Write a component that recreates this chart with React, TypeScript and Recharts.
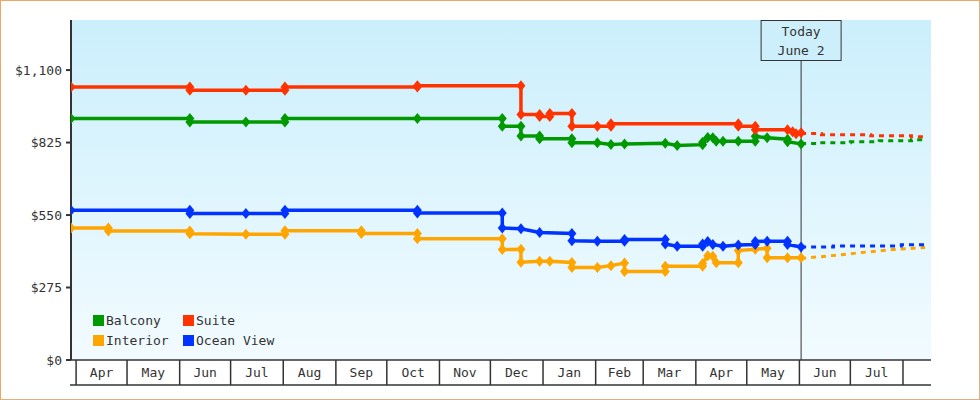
import { LineChart, Line, XAxis, YAxis, CartesianGrid, ReferenceLine, Legend } from 'recharts'

const FONT = '"DejaVu Sans Mono", monospace'
const INK = '#333333'

// chart geometry
const CHART_W = 980
const CHART_H = 400
const Y_AXIS_W = 71
const X_AXIS_H = 40
const MARGIN = { top: 20, right: 49, bottom: 0, left: 0 }
const PLOT_W = CHART_W - Y_AXIS_W - MARGIN.left - MARGIN.right
const ROW_H = 25

// day numbers count from 1 Apr 2022
const BASE = Date.UTC(2022, 3, 1)
const toDay = (s: string) => {
  const [y, m, d] = s.split('-').map(Number)
  return (Date.UTC(y, m - 1, d) - BASE) / 86400000
}

const X_MIN = -3
const X_MAX = 503.5
const Y_MAX = 1290

const MONTH_NAMES = ['Jan', 'Feb', 'Mar', 'Apr', 'May', 'Jun', 'Jul', 'Aug', 'Sep', 'Oct', 'Nov', 'Dec']
const MONTH_STARTS = [
  '2022-04-01', '2022-05-01', '2022-06-01', '2022-07-01', '2022-08-01', '2022-09-01',
  '2022-10-01', '2022-11-01', '2022-12-01', '2023-01-01', '2023-02-01', '2023-03-01',
  '2023-04-01', '2023-05-01', '2023-06-01', '2023-07-01', '2023-08-01',
]
const Y_TICKS = [0, 275, 550, 825, 1100]
const TODAY = '2023-06-02'
const TODAY_LABEL = ['Today', 'June 2']

type Pt = [string, number]

const balconyPrices: Pt[] = [
  ['2022-03-29', 916], ['2022-06-07', 916], ['2022-06-07', 903], ['2022-07-10', 903],
  ['2022-08-02', 903], ['2022-08-02', 916], ['2022-10-19', 916], ['2022-12-08', 916],
  ['2022-12-08', 887], ['2022-12-19', 887], ['2022-12-19', 850], ['2022-12-30', 850],
  ['2022-12-30', 839], ['2023-01-18', 839], ['2023-01-18', 824], ['2023-02-02', 824],
  ['2023-02-10', 818], ['2023-02-18', 820], ['2023-03-14', 822], ['2023-03-21', 814],
  ['2023-04-05', 817], ['2023-04-05', 826], ['2023-04-08', 844], ['2023-04-11', 843],
  ['2023-04-13', 830], ['2023-04-17', 830], ['2023-04-26', 830], ['2023-05-06', 830],
  ['2023-05-06', 849], ['2023-05-13', 843], ['2023-05-25', 838], ['2023-05-25', 828],
  ['2023-06-02', 820],
]
const suitePrices: Pt[] = [
  ['2022-03-29', 1036], ['2022-06-07', 1036], ['2022-06-07', 1023], ['2022-07-10', 1023],
  ['2022-08-02', 1023], ['2022-08-02', 1036], ['2022-10-19', 1036], ['2022-10-19', 1041],
  ['2022-12-19', 1041], ['2022-12-19', 931], ['2022-12-30', 931], ['2022-12-30', 924],
  ['2023-01-05', 924], ['2023-01-05', 935], ['2023-01-18', 935], ['2023-01-18', 887],
  ['2023-02-02', 887], ['2023-02-10', 887], ['2023-02-10', 896], ['2023-04-26', 896],
  ['2023-04-26', 887], ['2023-05-06', 887], ['2023-05-06', 874], ['2023-05-25', 874],
  ['2023-05-28', 866], ['2023-05-30', 858], ['2023-06-02', 862],
]
const interiorPrices: Pt[] = [
  ['2022-03-29', 501], ['2022-04-20', 501], ['2022-04-20', 489], ['2022-06-07', 489],
  ['2022-06-07', 479], ['2022-07-10', 477], ['2022-08-02', 477], ['2022-08-02', 490],
  ['2022-09-16', 490], ['2022-09-16', 480], ['2022-10-19', 480], ['2022-10-19', 460],
  ['2022-12-08', 460], ['2022-12-08', 419], ['2022-12-19', 420], ['2022-12-19', 371],
  ['2022-12-30', 375], ['2023-01-05', 375], ['2023-01-18', 370], ['2023-01-18', 351],
  ['2023-02-02', 351], ['2023-02-10', 358], ['2023-02-18', 368], ['2023-02-18', 336],
  ['2023-03-14', 336], ['2023-03-14', 356], ['2023-04-05', 356], ['2023-04-05', 366],
  ['2023-04-08', 396], ['2023-04-11', 394], ['2023-04-13', 369], ['2023-04-26', 369],
  ['2023-04-26', 415], ['2023-05-06', 420], ['2023-05-13', 424], ['2023-05-13', 388],
  ['2023-05-25', 388], ['2023-06-02', 388],
]
const oceanViewPrices: Pt[] = [
  ['2022-03-29', 568], ['2022-06-07', 568], ['2022-06-07', 556], ['2022-07-10', 556],
  ['2022-08-02', 556], ['2022-08-02', 568], ['2022-10-19', 568], ['2022-10-19', 558],
  ['2022-12-08', 558], ['2022-12-08', 501], ['2022-12-19', 498], ['2022-12-30', 484],
  ['2023-01-18', 480], ['2023-01-18', 452], ['2023-02-02', 451], ['2023-02-18', 451],
  ['2023-02-18', 457], ['2023-03-14', 457], ['2023-03-14', 440], ['2023-03-21', 432],
  ['2023-04-05', 432], ['2023-04-05', 440], ['2023-04-08', 450], ['2023-04-11', 438],
  ['2023-04-17', 432], ['2023-04-26', 436], ['2023-05-06', 438], ['2023-05-06', 450],
  ['2023-05-13', 451], ['2023-05-25', 451], ['2023-05-25', 438], ['2023-06-02', 429],
]

// projected prices after today
const balconyForecast: Pt[] = [
  ['2023-06-02', 821], ['2023-06-13', 824], ['2023-07-01', 828], ['2023-07-18', 832],
  ['2023-08-06', 836], ['2023-08-14', 836],
]
const suiteForecast: Pt[] = [
  ['2023-06-02', 859], ['2023-06-14', 855], ['2023-07-13', 851], ['2023-08-06', 847],
  ['2023-08-14', 847],
]
const interiorForecast: Pt[] = [
  ['2023-06-02', 385], ['2023-06-20', 396], ['2023-07-08', 408], ['2023-07-26', 419],
  ['2023-08-14', 427],
]
const oceanViewForecast: Pt[] = [
  ['2023-06-02', 429], ['2023-06-21', 433], ['2023-07-31', 437], ['2023-08-14', 437],
]

const SERIES = [
  { name: 'Balcony', color: '#009900', history: balconyPrices, forecast: balconyForecast, curve: 'stepAfter' },
  { name: 'Suite', color: '#ff3300', history: suitePrices, forecast: suiteForecast, curve: 'stepAfter' },
  { name: 'Interior', color: '#ffa500', history: interiorPrices, forecast: interiorForecast, curve: 'linear' },
  { name: 'Ocean View', color: '#0033ff', history: oceanViewPrices, forecast: oceanViewForecast, curve: 'stepAfter' },
] as const

const toRows = (pts: Pt[]) => pts.map(([d, v]) => ({ d: toDay(d), v }))
const MONTH_DAYS = MONTH_STARTS.map(toDay)
const PX_PER_DAY = PLOT_W / (X_MAX - X_MIN)

const money = (v: number) => `$${v.toLocaleString('en-US')}`

const diamond = (color: string) => (props: any) => {
  const { cx, cy, index } = props
  if (cx == null || cy == null) return <g key={`e-${index}`} />
  return (
    <polygon
      key={`dot-${index}`}
      points={`${cx},${cy - 5.5} ${cx + 4.5},${cy} ${cx},${cy + 5.5} ${cx - 4.5},${cy}`}
      fill={color}
    />
  )
}

function MonthTick(props: any) {
  const { x, y, index } = props
  const start = MONTH_DAYS[index]
  const next = MONTH_DAYS[index + 1]
  const month = Number(MONTH_STARTS[index].split('-')[1]) - 1
  const plotLeft = x - (start - X_MIN) * PX_PER_DAY
  return (
    <g>
      {index === 0 && (
        <line x1={plotLeft - 1} y1={y + ROW_H} x2={plotLeft + PLOT_W} y2={y + ROW_H} stroke={INK} strokeWidth={1.5} />
      )}
      <line x1={x} y1={y} x2={x} y2={y + ROW_H} stroke={INK} strokeWidth={1.5} />
      {next !== undefined && (
        <text
          x={x + ((next - start) * PX_PER_DAY) / 2}
          y={y + 17}
          textAnchor="middle"
          fill={INK}
          fontSize={13}
          fontFamily={FONT}
        >
          {MONTH_NAMES[month]}
        </text>
      )}
    </g>
  )
}

function TodayLabel(props: any) {
  const { viewBox } = props
  const cx = viewBox.x
  const top = viewBox.y
  return (
    <g>
      <rect x={cx - 40} y={top + 0.5} width={80} height={40} fill="#cdeffc" stroke={INK} strokeWidth={1} />
      {TODAY_LABEL.map((t, i) => (
        <text key={t} x={cx} y={top + 16 + i * 18.5} textAnchor="middle" fill={INK} fontSize={13} fontFamily={FONT}>
          {t}
        </text>
      ))}
    </g>
  )
}

function LegendGrid() {
  return (
    <div
      style={{
        display: 'grid',
        gridTemplateColumns: '90px 120px',
        rowGap: 9,
        fontFamily: FONT,
        fontSize: 13,
        color: INK,
      }}
    >
      {SERIES.map((s) => (
        <div key={s.name} style={{ display: 'flex', alignItems: 'center', height: 11, whiteSpace: 'nowrap' }}>
          <span style={{ width: 11, height: 11, background: s.color, marginRight: 2, display: 'inline-block' }} />
          {s.name}
        </div>
      ))}
    </div>
  )
}

export default function App() {
  return (
    <div
      style={{
        position: 'absolute',
        left: 0,
        top: 0,
        width: CHART_W,
        height: CHART_H,
        background: '#ffffff',
        boxShadow: 'inset 1px 1px 0 #eda862, inset -1px -1px 0 #dcb084',
      }}
    >
      <LineChart width={CHART_W} height={CHART_H} margin={MARGIN} style={{ fontFamily: FONT }}>
        <defs>
          <linearGradient id="plotBg" x1="0" y1="0" x2="0" y2="1">
            <stop offset="0%" stopColor="#cbeffc" />
            <stop offset="100%" stopColor="#f2fbff" />
          </linearGradient>
        </defs>
        <CartesianGrid horizontal={false} vertical={false} fill="url(#plotBg)" />
        <XAxis
          dataKey="d"
          type="number"
          domain={[X_MIN, X_MAX]}
          allowDataOverflow
          ticks={MONTH_DAYS}
          interval={0}
          height={X_AXIS_H}
          tickSize={0}
          tickMargin={0}
          tick={<MonthTick />}
          axisLine={{ stroke: INK, strokeWidth: 1.5 }}
        />
        <YAxis
          type="number"
          domain={[0, Y_MAX]}
          ticks={Y_TICKS}
          interval={0}
          width={Y_AXIS_W}
          tickSize={5}
          tickMargin={4}
          tickFormatter={money}
          tick={{ fill: INK, fontSize: 13, fontFamily: FONT }}
          tickLine={{ stroke: INK, strokeWidth: 2 }}
          axisLine={{ stroke: INK, strokeWidth: 2 }}
        />
        <ReferenceLine x={toDay(TODAY)} stroke={INK} strokeWidth={1} label={TodayLabel} />
        {SERIES.map((s) => (
          <Line
            key={`${s.name}-f`}
            data={toRows(s.forecast)}
            dataKey="v"
            type={s.curve}
            stroke={s.color}
            strokeWidth={3}
            strokeDasharray="5 5"
            dot={false}
            activeDot={false}
            isAnimationActive={false}
          />
        ))}
        {SERIES.map((s) => (
          <Line
            key={s.name}
            name={s.name}
            data={toRows(s.history)}
            dataKey="v"
            type="linear"
            stroke={s.color}
            strokeWidth={3.5}
            dot={diamond(s.color)}
            activeDot={false}
            isAnimationActive={false}
          />
        ))}
        <Legend
          layout="horizontal"
          verticalAlign="middle"
          align="center"
          content={LegendGrid}
          wrapperStyle={{ left: 93, top: 315, width: 220, height: 31 }}
        />
      </LineChart>
    </div>
  )
}
